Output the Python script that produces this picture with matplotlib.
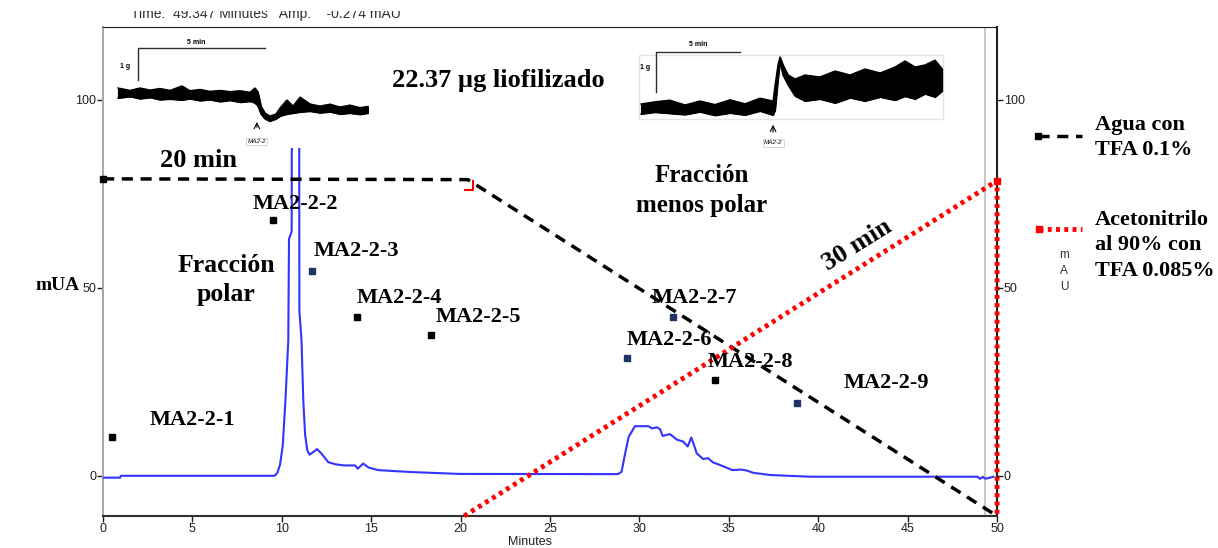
import numpy as np
import matplotlib
matplotlib.use('Agg')
import matplotlib.pyplot as plt
from matplotlib.lines import Line2D
from matplotlib.patches import Rectangle
from matplotlib.transforms import Bbox, TransformedBbox

SERIF = 'Liberation Serif'
SANS = 'Liberation Sans'

# chromatogram (minutes, mAU); top of the peak is hidden under the inset
chrom_min = [0, 0.95, 1.0, 9.6, 9.75, 9.9, 10.05, 10.2, 10.36, 10.40, 10.55, 10.56, 10.77,
             10.97, 10.98, 11.1, 11.2, 11.3, 11.42, 11.55, 11.75, 11.97, 12.2, 12.6, 13.0,
             13.5, 14.1, 14.25, 14.55, 14.85, 15.4, 17.2, 19.9, 27.0, 28.8, 29.0, 29.2, 29.4,
             29.75, 30.5, 30.7, 30.97, 31.15, 31.3, 31.7, 32.1, 32.45, 32.7, 32.9, 33.05,
             33.2, 33.56, 33.84, 34.1, 34.7, 35.2, 35.7, 36.0, 36.36, 37.3, 39.6, 48.9,
             49.05, 49.2, 49.35, 49.8]
chrom_mau = [-0.5, -0.5, 0.0, 0.0, 0.8, 3.0, 8.0, 20.0, 36.0, 63.0, 65.0, 100.0, 115.0,
             100.0, 44.0, 36.0, 20.0, 11.0, 6.8, 5.6, 6.3, 7.1, 6.0, 3.6, 3.05,
             2.75, 2.75, 1.9, 3.25, 2.2, 1.5, 1.0, 0.5, 0.45, 0.45, 1.07, 5.95, 10.4,
             13.2, 13.2, 12.6, 12.9, 12.4, 10.6, 11.1, 9.6, 9.1, 7.8, 10.2, 8.2,
             6.0, 4.46, 4.7, 3.6, 2.5, 1.5, 1.65, 1.4, 0.8, 0.2, -0.25, -0.25,
             -0.8, -0.3, -0.8, -0.25]

# gradient programme
agua_min = [0, 20.4, 50]
agua_pct = [79.0, 78.8, -10.7]
aceto_min = [20.2, 50, 50]
aceto_pct = [-10.7, 78.5, -10.7]

# collected fractions
frac_names = ['MA2-2-1', 'MA2-2-2', 'MA2-2-3', 'MA2-2-4', 'MA2-2-5',
              'MA2-2-6', 'MA2-2-7', 'MA2-2-8', 'MA2-2-9']
frac_min = [0.5, 9.5, 11.7, 14.2, 18.35, 29.3, 31.86, 34.2, 38.8]
frac_mau = [10.3, 68.0, 54.5, 42.2, 37.4, 31.3, 42.3, 25.5, 19.4]
frac_color = ['#000000', '#000000', '#1f3464', '#000000', '#000000',
              '#1f3464', '#1f3464', '#000000', '#1f3464']
label_x = [2.63, 8.39, 11.8, 14.2, 18.6, 29.3, 30.7, 33.8, 41.4]
label_y = [14.8, 72.3, 59.8, 47.3, 42.2, 36.1, 47.3, 30.3, 24.6]

# inset traces (min, g)
left_t = [0, 0.47, 0.87, 1.26, 1.65, 2.05, 2.52, 2.83, 3.23, 3.62, 4.02, 4.41, 4.8, 5.2,
          5.39, 5.51, 5.63, 5.79, 5.98, 6.22, 6.38, 6.65, 6.89, 7.17, 7.56, 7.95, 8.35,
          8.74, 9.13, 9.53, 9.84]
left_hi = [0.375, 0.30, 0.375, 0.31, 0.36, 0.30, 0.44, 0.29, 0.33, 0.27, 0.30, 0.26, 0.29,
           0.24, 0.375, 0.25, -0.19, -0.41, -0.5, -0.44, -0.25, 0.0, -0.19, 0.09, -0.125,
           -0.19, -0.13, -0.22, -0.16, -0.24, -0.2]
left_lo = [0.06, 0.11, 0.04, 0.08, 0.01, 0.03, 0.0, 0.04, -0.02, 0.01, -0.05, -0.01, -0.07,
           -0.04, -0.09, -0.19, -0.44, -0.59, -0.66, -0.59, -0.5, -0.44, -0.41, -0.375,
           -0.35, -0.40, -0.37, -0.44, -0.41, -0.45, -0.41]
right_t = [0, 0.83, 1.73, 2.62, 3.51, 4.4, 5.3, 6.19, 7.08, 7.86, 7.98, 8.15, 8.27, 8.45,
           8.75, 9.17, 9.76, 10.65, 11.55, 12.44, 13.33, 14.23, 15.12, 15.71, 16.31, 16.9,
           17.5, 17.92]
right_hi = [0.125, 0.18, 0.22, 0.1, 0.2, 0.11, 0.23, 0.13, 0.27, 0.2, 0.6, 1.1, 1.3,
            1.1, 0.85, 0.75, 0.85, 0.8, 0.95, 0.85, 1.0, 0.9, 1.05, 1.2,
            1.05, 1.1, 1.22, 1.0]
right_lo = [-0.125, -0.08, -0.11, -0.14, -0.07, -0.16, -0.1, -0.15, -0.05, -0.15,
            -0.025, 0.725, 1.175, 0.85, 0.6, 0.325, 0.2, 0.25, 0.15, 0.28, 0.2,
            0.3, 0.22, 0.32, 0.25, 0.38, 0.3, 0.45]

fig = plt.figure(figsize=(12.18, 5.48), dpi=100)
ax = fig.add_axes([0.0846, 0.0584, 0.734, 0.8923])
ax.set_xlim(0, 50)
ax.set_ylim(-10.7, 119.4)

ax.axvline(49.347, color='#c8c8c8', lw=1.5, zorder=1)
ax.plot(chrom_min, chrom_mau, color='#3333ff', lw=1.5, zorder=3)

ax.plot(agua_min, agua_pct, color='black', lw=2.5, ls=(0, (3.2, 2.2)), zorder=4)
ax.plot(agua_min[0], agua_pct[0], 's', color='black', ms=4, clip_on=False, zorder=5)
ax.plot(aceto_min, aceto_pct, color='#ff0000', lw=3.5, ls=(0, (0.8, 0.9)), zorder=4,
        clip_on=False)
ax.plot(aceto_min[1], aceto_pct[1], 's', color='#ff0000', ms=5, clip_on=False, zorder=5)
ax.plot([20.25, 20.7, 20.7], [76.0, 76.0, 78.4], color='#ff0000', lw=1.5, zorder=5)

for name, x, y, c, lx, ly in zip(frac_names, frac_min, frac_mau, frac_color, label_x, label_y):
    ax.plot(x, y, 's', color=c, ms=4, zorder=6)
    ax.text(lx, ly, name, family=SERIF, weight='bold', fontsize=16, ha='left', va='center',
            zorder=7)

bold = dict(family=SERIF, weight='bold', zorder=7)
ax.text(22.1, 105.3, '22.37 µg liofilizado', ha='center', va='center', fontsize=19, **bold)
ax.text(3.2, 84.0, '20 min', ha='left', va='center', fontsize=19, **bold)
ax.text(6.9, 52.0, 'Fracción\npolar', ha='center', va='center', linespacing=1.35,
        fontsize=18.5, **bold)
ax.text(33.5, 75.9, 'Fracción\nmenos polar', ha='center', va='center', linespacing=1.35,
        fontsize=18, **bold)
ax.text(42.2, 61.4, '30 min', ha='center', va='center', rotation=32, fontsize=19, **bold)

ax.spines['left'].set_color('#a8a8a8')
ax.spines['left'].set_linewidth(1.5)
ax.spines['bottom'].set_color('#303030')
ax.spines['bottom'].set_linewidth(1.5)
ax.spines['top'].set_color('#202020')
ax.spines['right'].set_color('#202020')
ax.spines['right'].set_linewidth(1.5)
ax.set_xticks(range(0, 51, 5))
ax.set_yticks([0, 50, 100])
ax.tick_params(labelsize=9, colors='#202020', length=4, width=1, pad=1)
for lbl in ax.get_xticklabels() + ax.get_yticklabels():
    lbl.set_family(SANS)
ax.set_xlabel('Minutes', family=SANS, fontsize=9, labelpad=0, color='#202020')
ax.xaxis.set_label_coords(0.478, -0.04)

ax2 = ax.twinx()
ax2.set_ylim(ax.get_ylim())
ax2.set_yticks([0, 50, 100])
ax2.tick_params(labelsize=9, colors='#202020', length=4, width=1, pad=1)
for lbl in ax2.get_yticklabels():
    lbl.set_family(SANS)
for s in ax2.spines.values():
    s.set_visible(False)

fig.text(58 / 1218, 1 - 285 / 548, 'mUA', family=SERIF, weight='bold', fontsize=14,
         ha='center', va='center')
fig.text(1064 / 1218, 1 - 271 / 548, 'm\nA\nU', family=SANS, fontsize=8.5, color='#303030',
         ha='center', va='center', linespacing=1.45)
# status line of the software, its upper part is cut off in the original
status = fig.text(131 / 1218, 1 - 18 / 548, 'Time:  49.347 Minutes   Amp:    -0.274 mAU',
                  family=SANS, fontsize=10, color='#303030', ha='left', va='baseline')
status.set_clip_box(TransformedBbox(Bbox([[0, 0], [1, 1 - 10.5 / 548]]), fig.transFigure))

# legend drawn by hand at the right
fig.add_artist(Line2D([1038 / 1218, 1082 / 1218], [1 - 136 / 548, 1 - 136 / 548],
                      color='black', lw=2.5, ls=(0, (3.2, 2.2))))
fig.add_artist(Line2D([1038 / 1218], [1 - 136 / 548], marker='s', color='black', ms=4))
fig.text(1095 / 1218, 1 - 137.5 / 548, 'Agua con\nTFA 0.1%', family=SERIF, weight='bold',
         fontsize=16, ha='left', va='center', linespacing=1.38)
fig.add_artist(Line2D([1039 / 1218, 1082 / 1218], [1 - 229 / 548, 1 - 229 / 548],
                      color='#ff0000', lw=3.5, ls=(0, (0.8, 0.9))))
fig.add_artist(Line2D([1039 / 1218], [1 - 229 / 548], marker='s', color='#ff0000', ms=5))
fig.text(1095 / 1218, 1 - 245.5 / 548, 'Acetonitrilo\nal 90% con\nTFA 0.085%', family=SERIF,
         weight='bold', fontsize=16, ha='left', va='center', linespacing=1.35)


def inset(rect, xlim, ylim, t, hi, lo, bar, label_pos, arrow_t, arrow_f, tag_f, frame=None):
    a = fig.add_axes(rect)
    a.set_xlim(*xlim)
    a.set_ylim(*ylim)
    a.set_facecolor('white')
    a.set_xticks([])
    a.set_yticks([])
    for s in a.spines.values():
        s.set_visible(False)
    if frame:
        a.add_patch(Rectangle((frame[0], frame[1]), frame[2], frame[3], fill=False,
                              edgecolor='#e4e4e4', lw=1))
    a.fill_between(t, lo, hi, color='black', lw=0.8)
    a.plot(t, hi, color='black', lw=1.0)
    a.plot(t, lo, color='black', lw=1.0)
    bx, by_lo, by_hi, bx_end = bar
    a.plot([bx, bx, bx_end], [by_lo, by_hi, by_hi], color='#303030', lw=1.0)
    (mx, my), (gx, gy) = label_pos
    a.text(mx, my, '5 min', family=SANS, fontsize=5, weight='bold', ha='center', va='center')
    a.text(gx, gy, '1 g', family=SANS, fontsize=5, weight='bold', ha='center', va='center')
    a.annotate('', xy=(arrow_t, arrow_f[1]), xytext=(arrow_t, arrow_f[0]),
               arrowprops=dict(arrowstyle='->', lw=0.8, color='black'))
    a.text(arrow_t, tag_f, 'MA2-2', family=SANS, fontsize=4.5, style='italic',
           ha='center', va='center',
           bbox=dict(boxstyle='square,pad=0.2', fc='white', ec='#d0d0d0', lw=0.6))
    return a


inset([112 / 1218, 1 - 148 / 548, 263 / 1218, 112 / 548], (-0.236, 10.12), (-1.5, 2.0),
      left_t, left_hi, left_lo, (0.79, 0.625, 1.625, 5.79), ((3.1, 1.81), (0.28, 1.06)),
      5.47, (-0.94, -0.6), -1.3)
inset([630 / 1218, 1 - 150 / 548, 320 / 1218, 112 / 548], (-0.655, 18.39), (-1.025, 1.775),
      right_t, right_hi, right_lo, (0.89, 0.425, 1.425, 5.89), ((3.4, 1.6), (0.24, 1.03)),
      7.86, (-0.65, -0.325), -0.85, frame=(-0.12, -0.25, 18.1, 1.6))

fig.savefig('out.png', dpi=100)
